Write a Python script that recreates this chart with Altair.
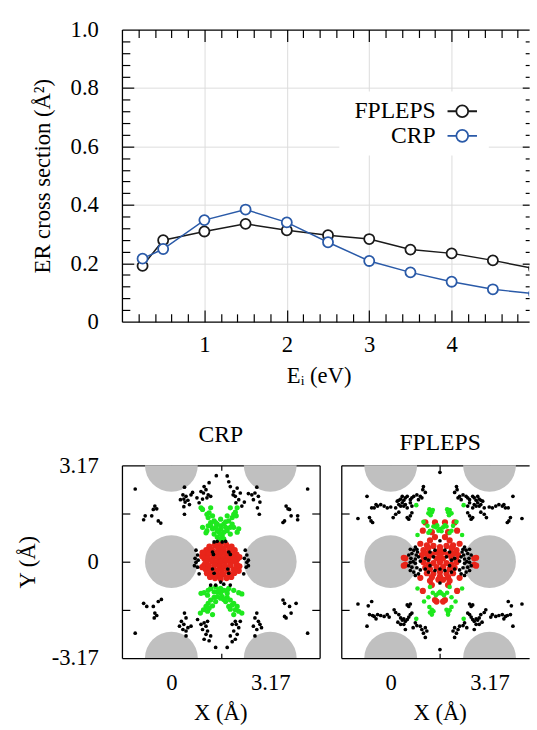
import altair as alt
import pandas as pd

FONT = "Liberation Serif"

# ---------------- top panel: ER cross section ----------------
energy = [0.25, 0.5, 1.0, 1.5, 2.0, 2.5, 3.0, 3.5, 4.0, 4.5, 5.0]
fpleps_er = [0.191, 0.279, 0.309, 0.335, 0.313, 0.296, 0.283, 0.247, 0.234, 0.210, 0.182]
crp_er = [0.216, 0.249, 0.348, 0.384, 0.340, 0.272, 0.208, 0.169, 0.137, 0.111, 0.096]
series_names = ["FPLEPS", "CRP"]
series_colors = ["#1a1a1a", "#2a5aa8"]

x_major = [1, 2, 3, 4]
x_minor = [0.2, 0.4, 0.6, 0.8, 1.2, 1.4, 1.6, 1.8, 2.2, 2.4, 2.6, 2.8,
           3.2, 3.4, 3.6, 3.8, 4.2, 4.4, 4.6, 4.8]
y_labels = [0, 0.2, 0.4, 0.6, 0.8, 1.0]
y_major = [0.2, 0.4, 0.6, 0.8]
y_minor = [0.04, 0.08, 0.12, 0.16, 0.24, 0.28, 0.32, 0.36, 0.44, 0.48, 0.52, 0.56,
           0.64, 0.68, 0.72, 0.76, 0.84, 0.88, 0.92, 0.96]

# ---------------- bottom panels: impact maps ----------------
cell_ticks = [0, 3.17]
cell_mid = [1.585]
cell_y_ticks = [-1.585, 0, 1.585]
cell_y_labels = [-3.17, 0, 3.17]

atom_x = [0, 3.17, 0, 3.17, 0, 3.17]
atom_y = [0, 0, 3.17, 3.17, -3.17, -3.17]

crp_black = [
    (-1.16, 2.39), (0.42, 2.45), (0.37, 2.2), (0.47, 2.15), (0.4, 2.06), (0.29, 2.04),
    (0.44, 1.96), (0.53, 2.02), (0.63, 2.2), (0.68, 2.28), (0.58, 1.88), (0.4, 1.81),
    (0.42, 1.56), (1.05, 2.47), (1.11, 2.37), (1.03, 2.26), (1.18, 2.2), (1.14, 2.1),
    (1.0, 2.06), (1.26, 2.15), (0.89, 1.94), (0.82, 2.1), (0.95, 2.31), (1.21, 2.6),
    (1.44, 2.83), (1.79, 2.82), (1.84, 2.63), (1.89, 2.47), (2.0, 2.31), (2.05, 2.15),
    (2.16, 2.04), (1.98, 2.2), (2.11, 2.42), (2.21, 2.26), (2.07, 1.94), (2.26, 1.83),
    (2.34, 1.96), (2.74, 2.45), (2.68, 2.26), (2.79, 2.15), (2.63, 2.04), (2.84, 1.96),
    (2.58, 2.2), (2.76, 1.77), (2.82, 1.56), (2.47, 2.24), (4.37, 2.39),
    (-0.53, 1.83), (-0.47, 1.74), (-0.58, 1.72), (-0.84, 1.51), (-0.63, 1.51),
    (-0.89, 1.38), (-0.42, 1.34), (-0.34, 1.27),
    (3.68, 1.83), (3.74, 1.74), (3.79, 1.72), (3.84, 1.51), (4.05, 1.51), (4.05, 1.38),
    (3.58, 1.29), (3.63, 1.34),
    (0.79, 0.38), (0.84, 0.22), (0.76, 0.11), (0.86, 0.05), (1.37, 0.65), (1.47, 0.67),
    (1.63, 0.65), (1.74, 0.67), (1.32, 0.32), (1.35, 0.24), (1.84, 0.32), (1.89, 0.24),
    (2.37, 0.38), (2.42, 0.22), (2.34, 0.11), (2.47, 0.05),
    (0.79, -0.02), (0.84, -0.18), (0.89, -0.4), (0.74, -0.13), (1.32, -0.24), (1.37, -0.38),
    (1.81, -0.24), (1.84, -0.38), (2.42, -0.02), (2.4, -0.18), (2.32, -0.4), (2.47, -0.13),
    (1.42, -0.77), (1.58, -0.67), (1.68, -0.74), (1.89, -0.77), (1.26, -0.77),
    (-0.89, -1.37), (-0.79, -1.47), (-0.58, -1.47), (-0.42, -1.31), (-0.32, -1.24),
    (-0.53, -1.69), (-0.55, -1.85), (-0.47, -1.77), (-1.16, -2.35),
    (0.42, -1.69), (0.47, -1.85), (0.32, -1.96), (0.4, -2.06), (0.26, -2.12), (0.37, -2.23),
    (0.53, -2.17), (0.63, -2.12), (0.47, -2.28), (0.47, -2.44), (0.84, -1.9), (0.95, -2.06),
    (1.05, -2.01), (1.16, -1.96), (1.11, -2.12), (1.0, -2.23), (1.16, -2.28), (1.11, -2.39),
    (1.26, -2.44), (1.05, -2.55), (1.21, -2.6), (1.42, -2.82), (1.79, -2.82), (1.95, -2.63),
    (2.05, -2.55), (2.11, -2.39), (2.0, -2.28), (2.16, -2.17), (2.08, -2.06), (2.21, -1.96),
    (2.05, -1.96), (1.95, -2.06), (1.89, -2.44), (2.74, -1.69), (2.68, -1.85), (2.79, -1.96),
    (2.84, -2.06), (2.74, -2.23), (2.63, -2.12), (2.89, -2.17), (2.68, -2.44),
    (3.58, -1.26), (3.63, -1.37), (3.79, -1.47), (4.0, -1.37), (3.84, -1.69), (3.68, -1.85),
    (3.63, -1.8), (4.37, -2.35),
]

crp_green = [
    (0.95, 1.77), (1.0, 1.72), (1.26, 1.77), (1.21, 1.61), (1.32, 1.51), (1.14, 1.56),
    (1.18, 1.45), (1.37, 1.34), (1.26, 1.29), (1.47, 1.24), (1.58, 1.18), (1.68, 1.24),
    (1.84, 1.34), (1.95, 1.45), (2.0, 1.56), (2.05, 1.63), (1.89, 1.77), (2.11, 1.77),
    (2.08, 1.51), (1.79, 1.51), (2.16, 1.08), (2.11, 0.97), (1.58, 1.08), (1.53, 0.97),
    (1.63, 0.86), (1.47, 0.81), (1.68, 0.75), (1.14, 1.02), (1.11, 0.95), (1.0, 1.13),
    (1.32, 1.08), (1.37, 0.91), (1.79, 1.02), (1.89, 0.91), (2.0, 1.13), (1.18, 1.18),
    (1.95, 1.24), (1.58, 1.4), (1.42, 1.13), (1.74, 1.13), (1.47, 1.02), (1.68, 0.97),
    (1.58, 0.91), (1.42, 1.29), (1.74, 1.31), (1.26, 1.18), (1.89, 1.13), (1.58, 0.75),
    (0.95, -1.04), (1.05, -1.02), (1.18, -0.94), (1.26, -0.88), (1.42, -0.83), (1.58, -0.88),
    (1.68, -0.94), (1.84, -0.88), (2.0, -0.94), (2.16, -1.02), (2.26, -1.06), (1.47, -0.99),
    (1.58, -1.04), (1.63, -1.15), (1.37, -1.17), (1.26, -1.26), (1.18, -1.37), (1.11, -1.47),
    (1.03, -1.58), (0.93, -1.69), (1.32, -1.45), (1.79, -1.17), (1.89, -1.26), (2.0, -1.37),
    (2.11, -1.47), (2.16, -1.63), (2.26, -1.69), (1.84, -1.47), (1.89, -1.56), (2.05, -1.58),
    (1.42, -1.31), (1.74, -1.31), (1.32, -1.74), (2.0, -1.74), (1.16, -1.63), (1.58, -1.2),
    (1.79, -1.04), (1.16, -1.1), (1.47, -1.15), (1.68, -1.24), (1.53, -0.92), (1.37, -0.99),
    (1.79, -0.94), (1.21, -1.53), (1.95, -1.42),
]

crp_red = [
    (1.22, 0.5), (1.4, 0.55), (1.58, 0.57), (1.76, 0.55), (1.93, 0.5),
    (1.12, 0.38), (1.3, 0.4), (1.5, 0.43), (1.68, 0.42), (1.86, 0.4), (2.03, 0.38),
    (1.08, 0.25), (1.22, 0.27), (1.45, 0.29), (1.6, 0.29), (1.75, 0.27), (1.95, 0.26),
    (2.09, 0.23),
    (1.06, 0.1), (1.17, 0.12), (1.35, 0.14), (1.52, 0.15), (1.68, 0.12), (1.85, 0.14),
    (2.0, 0.1), (2.11, 0.08),
    (1.12, 0.0), (1.3, 0.02), (1.45, -0.01), (1.6, 0.0), (1.75, 0.02), (1.9, -0.01),
    (2.06, 0.0),
    (1.06, -0.1), (1.2, -0.13), (1.38, -0.12), (1.55, -0.15), (1.72, -0.14), (1.9, -0.12),
    (2.1, -0.1),
    (1.1, -0.25), (1.25, -0.27), (1.45, -0.29), (1.62, -0.28), (1.8, -0.29), (2.0, -0.25),
    (2.1, -0.22),
    (1.14, -0.38), (1.3, -0.41), (1.5, -0.43), (1.66, -0.42), (1.86, -0.4), (2.02, -0.37),
    (1.24, -0.5), (1.4, -0.54), (1.58, -0.57), (1.77, -0.54), (1.92, -0.5),
    (0.99, 0.18), (0.99, -0.18), (2.18, 0.15), (2.18, -0.15), (1.0, 0.3), (2.16, -0.3),
]

fp_black = [
    (1.58, 2.94), (1.05, 2.47), (1.03, 2.37), (1.11, 2.28), (0.95, 2.15), (1.0, 2.1),
    (0.89, 2.04), (0.84, 2.2), (0.74, 2.15), (0.68, 2.1), (0.63, 2.04), (0.53, 2.15),
    (0.47, 2.1), (0.42, 2.02), (0.37, 2.15), (0.32, 2.06), (0.26, 2.02), (0.21, 1.99),
    (0.37, 1.94), (0.47, 1.88), (0.26, 1.88), (0.63, 1.94), (0.68, 1.83), (0.53, 1.77),
    (0.42, 1.83), (0.32, 1.83), (0.16, 1.77), (0.0, 1.8), (-0.11, 1.77), (-0.21, 1.83),
    (-0.32, 1.88), (-0.42, 1.83), (-0.53, 1.77), (-0.61, 1.77), (-0.47, 1.88), (-0.76, 2.15),
    (0.63, 1.51), (0.58, 1.4), (0.53, 1.45), (0.68, 1.61), (-0.68, 1.45), (-0.63, 1.34),
    (-0.58, 1.29), (-1.05, 1.42), (0.26, 1.63), (0.16, 1.56), (0.08, 1.45),
    (2.11, 2.47), (2.13, 2.37), (2.05, 2.28), (2.21, 2.15), (2.16, 2.1), (2.26, 2.04),
    (2.32, 2.2), (2.42, 2.15), (2.47, 2.1), (2.53, 2.04), (2.63, 2.15), (2.68, 2.1),
    (2.74, 2.02), (2.79, 2.15), (2.84, 2.06), (2.89, 2.02), (2.95, 1.99), (2.79, 1.94),
    (2.68, 1.88), (2.89, 1.88), (2.53, 1.94), (2.47, 1.83), (2.63, 1.77), (2.74, 1.83),
    (2.84, 1.83), (3.0, 1.77), (3.16, 1.8), (3.26, 1.77), (3.37, 1.83), (3.47, 1.88),
    (3.58, 1.83), (3.68, 1.77), (3.77, 1.77), (3.63, 1.88), (3.92, 2.15), (2.53, 1.51),
    (2.58, 1.4), (2.63, 1.45), (2.47, 1.61), (3.84, 1.45), (3.79, 1.34), (3.74, 1.29),
    (4.21, 1.42), (2.89, 1.63), (3.0, 1.56), (3.07, 1.45),
    (1.58, 0.69),
    (0.79, 0.48), (0.74, 0.38), (0.84, 0.41), (0.68, 0.27), (0.82, 0.22), (0.65, 0.11),
    (0.79, 0.09), (0.89, 0.16), (0.95, 0.02), (0.58, 0.22), (0.72, 0.0), (0.86, 0.32),
    (0.63, 0.41),
    (2.37, 0.48), (2.42, 0.38), (2.32, 0.41), (2.47, 0.27), (2.34, 0.22), (2.51, 0.11),
    (2.37, 0.09), (2.26, 0.16), (2.21, 0.02), (2.58, 0.22), (2.44, 0.0), (2.29, 0.32),
    (2.53, 0.41),
    (1.26, 0.32), (1.42, 0.38), (1.74, 0.38), (1.89, 0.32), (1.11, 0.11), (1.37, 0.16),
    (1.79, 0.16), (2.05, 0.11), (1.21, 0.05), (1.95, 0.05),
    (1.26, -0.13), (1.42, -0.29), (1.74, -0.29), (1.89, -0.13), (1.11, -0.24), (2.05, -0.24),
    (1.21, -0.34), (1.95, -0.34), (1.58, -0.24),
    (0.63, -0.02), (0.79, -0.05), (0.68, -0.18), (0.84, -0.2), (0.74, -0.34), (0.89, -0.4),
    (0.63, -0.29), (0.79, -0.45), (0.95, -0.27), (0.58, -0.13),
    (2.53, -0.02), (2.37, -0.05), (2.47, -0.18), (2.32, -0.2), (2.42, -0.34), (2.26, -0.4),
    (2.53, -0.29), (2.37, -0.45), (2.21, -0.27), (2.58, -0.13),
    (1.58, -0.7),
    (-1.05, -1.39), (-0.76, -2.12), (-0.72, -1.45), (-0.61, -1.31), (-0.68, -1.74),
    (-0.58, -1.77), (-0.53, -1.8), (-0.47, -1.88), (-0.42, -1.74), (-0.32, -1.77),
    (-0.21, -1.8), (-0.11, -1.74), (-0.05, -1.82), (0.11, -1.58), (0.16, -1.67),
    (0.26, -1.74), (0.32, -1.85), (0.37, -1.92), (0.42, -1.88), (0.47, -1.96), (0.53, -1.9),
    (0.58, -1.82), (0.63, -1.74), (0.68, -1.69), (0.53, -1.42), (0.58, -1.47), (0.63, -1.39),
    (0.42, -2.06), (0.47, -2.23), (0.23, -1.99), (0.32, -2.06), (0.95, -2.12), (1.0, -2.23),
    (1.11, -2.17), (1.16, -2.28), (1.05, -2.35), (1.11, -2.49), (0.79, -2.01), (0.84, -2.1),
    (0.72, -2.17),
    (4.21, -1.39), (3.92, -2.12), (3.87, -1.45), (3.77, -1.31), (3.84, -1.74), (3.74, -1.77),
    (3.68, -1.8), (3.63, -1.88), (3.58, -1.74), (3.47, -1.77), (3.37, -1.8), (3.26, -1.74),
    (3.21, -1.82), (3.05, -1.58), (3.0, -1.67), (2.89, -1.74), (2.84, -1.85), (2.79, -1.92),
    (2.74, -1.88), (2.68, -1.96), (2.63, -1.9), (2.58, -1.82), (2.53, -1.74), (2.47, -1.69),
    (2.63, -1.42), (2.58, -1.47), (2.53, -1.39), (2.74, -2.06), (2.68, -2.23), (2.93, -1.99),
    (2.84, -2.06), (2.21, -2.12), (2.16, -2.23), (2.05, -2.17), (2.0, -2.28), (2.11, -2.35),
    (2.05, -2.49), (2.37, -2.01), (2.32, -2.1), (2.44, -2.17),
    (1.58, -2.89),
]

fp_green = [
    (0.82, 1.86), (2.34, 1.86), (1.24, 1.72), (1.32, 1.63), (1.21, 1.59), (1.28, 1.53),
    (1.35, 1.7), (1.81, 1.72), (1.84, 1.63), (1.95, 1.59), (1.87, 1.53), (1.89, 1.7),
    (1.05, 1.31), (1.18, 1.18), (1.26, 1.02), (1.21, 0.95), (1.45, 1.13), (1.49, 1.2),
    (1.58, 1.08), (1.63, 1.0), (1.68, 1.13), (1.74, 1.2), (1.95, 1.02), (1.89, 0.95),
    (2.0, 1.18), (2.11, 1.31), (0.86, 0.88), (2.29, 0.88), (1.37, 1.16), (1.79, 1.16),
    (1.53, 1.02),
    (0.86, -0.88), (2.29, -0.88), (1.26, -0.83), (1.89, -0.83), (1.35, -1.02), (1.45, -1.1),
    (1.58, -0.99), (1.71, -1.1), (1.81, -1.02), (1.21, -1.17), (1.95, -1.17), (1.07, -1.31),
    (2.08, -1.31), (1.24, -1.49), (1.32, -1.58), (1.26, -1.67), (1.37, -1.63), (1.32, -1.74),
    (1.79, -1.58), (1.84, -1.67), (1.89, -1.6), (1.95, -1.49), (1.84, -1.74), (0.82, -1.88),
    (2.34, -1.88), (1.63, -1.04), (1.53, -1.04),
]

fp_red = [
    (1.11, 1.29), (1.42, 1.29), (1.74, 1.29), (2.05, 1.29), (1.32, 0.97), (1.84, 0.97),
    (1.03, 1.02), (2.13, 1.02), (1.42, 0.81), (1.74, 0.81), (1.26, 0.7), (1.89, 0.7),
    (0.95, 0.59), (2.21, 0.59), (0.47, 0.11), (2.68, 0.11), (1.16, 0.54), (2.0, 0.54),
    (1.05, 0.38), (1.21, 0.45), (1.37, 0.52), (1.58, 0.48), (1.79, 0.52), (1.95, 0.45),
    (2.11, 0.38), (1.0, 0.22), (1.16, 0.27), (1.32, 0.24), (1.47, 0.32), (1.68, 0.32),
    (1.84, 0.24), (2.0, 0.27), (2.16, 0.22), (1.05, 0.05), (1.21, 0.13), (1.47, 0.11),
    (1.58, 0.05), (1.68, 0.11), (1.95, 0.13), (2.11, 0.05), (1.58, 0.38), (1.58, 0.22),
    (1.05, -0.02), (1.21, -0.1), (1.37, -0.05), (1.58, -0.02), (1.79, -0.05), (1.95, -0.1),
    (2.11, -0.02), (1.11, -0.2), (1.26, -0.24), (1.47, -0.18), (1.68, -0.18), (1.89, -0.24),
    (2.05, -0.2), (1.16, -0.38), (1.37, -0.4), (1.58, -0.34), (1.79, -0.4), (2.0, -0.38),
    (1.32, -0.51), (1.58, -0.48), (1.84, -0.51), (0.47, -0.1), (2.68, -0.1), (0.95, -0.53),
    (2.21, -0.53), (1.26, -0.63), (1.89, -0.63), (1.53, -0.59), (1.68, -0.59),
    (1.32, -0.77), (1.84, -0.77), (1.03, -0.96), (2.13, -0.96), (1.42, -1.26), (1.74, -1.26),
    (1.47, -1.31), (1.68, -1.31), (0.42, 0.13), (0.42, -0.13), (2.74, 0.13), (2.74, -0.13),
]

# legend sample: short line through an open circle, drawn to the right of the label
LEGEND_SYMBOL = ("M12.86,0H14.14M15.86,0H17.14M15.86,0A0.857,0.857,0,1,1,14.14,0"
                 "A0.857,0.857,0,1,1,15.86,0Z")


def ax_layer(df, xf, yf, xs, ys, xaxis, yaxis):
    return alt.Chart(df).mark_point(opacity=0).encode(
        x=alt.X(xf, type="quantitative", scale=xs, axis=xaxis),
        y=alt.Y(yf, type="quantitative", scale=ys, axis=yaxis),
    )


def tick_axis(orient, values, size):
    return alt.Axis(orient=orient, values=values, offset=-size, tickSize=size, ticks=True,
                    labels=False, domain=False, grid=False, title=None,
                    tickColor="black", tickWidth=1.2)


def frame_axis(orient):
    return alt.Axis(orient=orient, ticks=False, labels=False, domain=True, grid=False,
                    title=None, domainColor="black", domainWidth=1.3)


def grid_axis(orient, values):
    return alt.Axis(orient=orient, values=values, ticks=False, labels=False, domain=False,
                    grid=True, gridColor="#dcdcdc", gridWidth=1, title=None)


# ---------------- top chart ----------------
top_df = pd.DataFrame({
    "energy": energy + energy,
    "er": fpleps_er + crp_er,
    "series": [series_names[0]] * len(energy) + [series_names[1]] * len(energy),
})
xs_top = alt.Scale(domain=[0, 4.94], nice=False, zero=False)
ys_top = alt.Scale(domain=[0, 1], nice=False, zero=False)

legend = alt.Legend(
    title=None, orient="none", legendX=221, legendY=63, symbolType=LEGEND_SYMBOL,
    symbolSize=196, symbolStrokeWidth=1.8, symbolFillColor="white", labelAlign="right",
    labelBaseline="middle", labelOffset=66, symbolOffset=0, rowPadding=1,
    padding=8, fillColor="white", labelFont=FONT, labelFontSize=24, labelColor="black",
)
stroke_enc = alt.Stroke("series:N", scale=alt.Scale(domain=series_names, range=series_colors),
                        legend=legend)

lines = alt.Chart(top_df).mark_line(strokeWidth=1.5, clip=True).encode(
    x=alt.X("energy:Q", scale=xs_top, axis=alt.Axis(
        orient="bottom", values=x_major, ticks=False, grid=False, domain=True,
        domainColor="black", domainWidth=1.3, labelPadding=12, labelFlush=False,
        title="Eᵢ (eV)", titleX=200, titleY=55, titleBaseline="middle", titleAlign="center")),
    y=alt.Y("er:Q", scale=ys_top, axis=alt.Axis(
        orient="left", values=y_labels,
        labelExpr="datum.value == 0 ? '0' : format(datum.value, '.1f')",
        ticks=False, grid=False, domain=True, domainColor="black", domainWidth=1.3,
        labelPadding=24, labelFlush=False, title="ER cross section (Å²)", titleX=-81,
        titleY=148.5, titleBaseline="middle", titleAlign="center", titleAngle=270)),
    stroke=stroke_enc,
)
points = alt.Chart(top_df).mark_point(
    shape="circle", filled=True, fill="white", size=105, strokeWidth=1.8, opacity=1, clip=True
).encode(
    x=alt.X("energy:Q", scale=xs_top, axis=None),
    y=alt.Y("er:Q", scale=ys_top, axis=None),
    stroke=stroke_enc,
)

top = alt.layer(
    ax_layer(top_df, "energy", "er", xs_top, ys_top, grid_axis("bottom", x_major),
             grid_axis("left", y_major)),
    lines,
    points,
    ax_layer(top_df, "energy", "er", xs_top, ys_top, frame_axis("top"), None),
    ax_layer(top_df, "energy", "er", xs_top, ys_top, tick_axis("bottom", x_major, 12),
             tick_axis("left", y_major, 12)),
    ax_layer(top_df, "energy", "er", xs_top, ys_top, tick_axis("bottom", x_minor, 8),
             tick_axis("left", y_minor, 8)),
    ax_layer(top_df, "energy", "er", xs_top, ys_top, tick_axis("top", x_major, 12),
             tick_axis("right", y_major, 7)),
    ax_layer(top_df, "energy", "er", xs_top, ys_top, tick_axis("top", x_minor, 8),
             tick_axis("right", y_minor, 4)),
).resolve_axis(x="independent", y="independent").properties(width=414, height=297)


# ---------------- bottom panels ----------------
atom_df = pd.DataFrame({"x": atom_x, "y": atom_y})


def panel(title, red, green, black, width, xmax, show_y, red_size, green_size, title_dx):
    xs = alt.Scale(domain=[-1.585, xmax], nice=False, zero=False)
    ys = alt.Scale(domain=[-3.17, 3.17], nice=False, zero=False)
    if show_y:
        y_axis = alt.Axis(
            orient="left", values=cell_y_labels,
            labelExpr="datum.value == 0 ? '0' : replace(format(datum.value, '.2f'), '\u2212', '-')",
            ticks=False, grid=False, domain=True, domainColor="black", domainWidth=1.3,
            labelPadding=24, labelFlush=False, title="Y (Å)", titleX=-96, titleY=98,
            titleBaseline="middle", titleAlign="center", titleAngle=270)
    else:
        y_axis = frame_axis("left")
    atoms = alt.Chart(atom_df).mark_circle(size=2884, color="#c0c0c0", opacity=1, clip=True).encode(
        x=alt.X("x:Q", scale=xs, axis=alt.Axis(
            orient="bottom", values=cell_ticks,
            labelExpr="datum.value == 0 ? '0' : format(datum.value, '.2f')",
            ticks=False, grid=False, domain=True, domainColor="black", domainWidth=1.3,
            labelPadding=14, labelFlush=False, title="X (Å)", titleX=100, titleY=55,
            titleBaseline="middle", titleAlign="center")),
        y=alt.Y("y:Q", scale=ys, axis=y_axis),
    )

    def cloud(pts, color, size):
        df = pd.DataFrame(pts, columns=["x", "y"])
        return alt.Chart(df).mark_circle(size=size, color=color, opacity=1, clip=True).encode(
            x=alt.X("x:Q", scale=xs, axis=None),
            y=alt.Y("y:Q", scale=ys, axis=None),
        )

    layers = [
        atoms,
        cloud(red, "#e8251a", red_size),
        cloud(green, "#1ee81e", green_size),
        cloud(black, "#000000", 14),
        ax_layer(atom_df, "x", "y", xs, ys, frame_axis("top"),
                 frame_axis("right") if show_y else None),
        ax_layer(atom_df, "x", "y", xs, ys, tick_axis("bottom", cell_ticks, 12),
                 tick_axis("left", cell_y_ticks, 8)),
        ax_layer(atom_df, "x", "y", xs, ys, tick_axis("bottom", cell_mid, 5),
                 tick_axis("right", cell_y_ticks, 8) if show_y else None),
        ax_layer(atom_df, "x", "y", xs, ys, tick_axis("top", cell_ticks, 12), None),
        ax_layer(atom_df, "x", "y", xs, ys, tick_axis("top", cell_mid, 5), None),
    ]
    return alt.layer(*layers).resolve_axis(x="independent", y="independent").properties(
        width=width, height=196,
        title=alt.TitleParams(title, font=FONT, fontSize=24, fontWeight="normal", color="black",
                              frame="group", anchor="middle", offset=8, dx=title_dx),
    )


p_crp = panel("CRP", crp_red, crp_green, crp_black, 201, 4.755, True, 40, 28, 0)
p_fp = panel("FPLEPS", fp_red, fp_green, fp_black, 191, 4.44, False, 40, 22, 5)

bottom = alt.hconcat(p_crp, p_fp, spacing=22, bounds="flush")

chart = alt.vconcat(top, bottom, spacing=146, bounds="flush").properties(
    padding={"left": 17, "top": 13, "right": 0, "bottom": 0}
).configure(font=FONT).configure_view(stroke=None).configure_axis(
    labelFont=FONT, titleFont=FONT, labelFontSize=23, titleFontSize=23,
    labelColor="black", titleColor="black", titleFontWeight="normal",
)

chart.save("out.html", embed_options={"renderer": "svg", "actions": False})
